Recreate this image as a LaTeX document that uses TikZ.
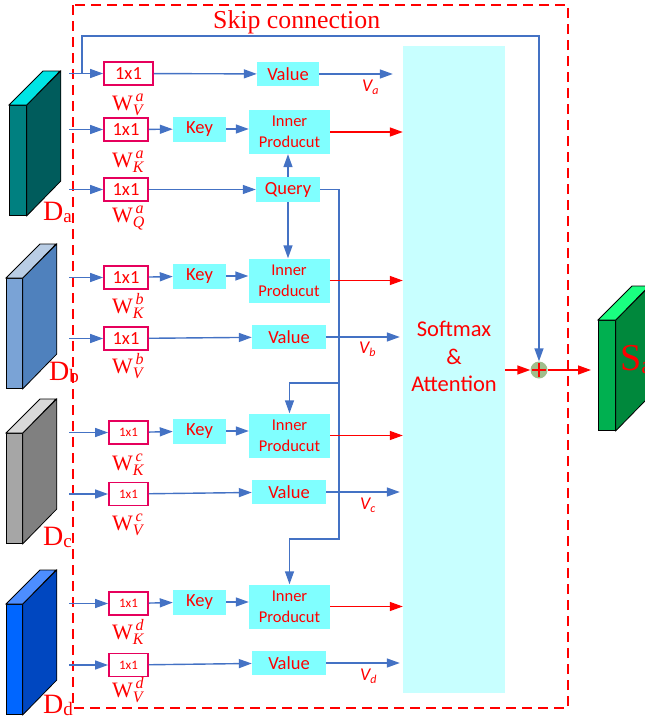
\documentclass[tikz,border=0pt]{standalone}
\usepackage{fontspec}
\setmainfont{Liberation Serif}
\newfontfamily\calib{Carlito}
\usetikzlibrary{arrows.meta}
\definecolor{lineblue}{RGB}{68,114,196}
\definecolor{convred}{RGB}{230,0,92}
\definecolor{boxcyan}{RGB}{128,255,255}
\definecolor{softcyan}{RGB}{200,255,255}
\definecolor{plusgreen}{RGB}{160,190,140}
\definecolor{dafront}{RGB}{0,128,128}
\definecolor{daside}{RGB}{0,92,92}
\definecolor{datop}{RGB}{0,228,228}
\definecolor{dbfront}{RGB}{122,163,214}
\definecolor{dbside}{RGB}{79,129,189}
\definecolor{dbtop}{RGB}{185,205,229}
\definecolor{dcfront}{RGB}{166,166,166}
\definecolor{dcside}{RGB}{128,128,128}
\definecolor{dctop}{RGB}{217,217,217}
\definecolor{ddfront}{RGB}{0,102,255}
\definecolor{ddside}{RGB}{0,71,192}
\definecolor{ddtop}{RGB}{77,142,255}
\definecolor{safront}{RGB}{0,176,80}
\definecolor{saside}{RGB}{0,136,60}
\definecolor{satop}{RGB}{26,255,128}
\newcommand{\wlab}[2]{{\fontsize{22}{22}\selectfont W}\rlap{\raisebox{9pt}{\fontsize{16}{16}\selectfont\itshape\,#1}}\raisebox{-5pt}{\fontsize{16}{16}\selectfont\itshape #2}}
\newcommand{\vlab}[1]{\calib\itshape\fontsize{18}{18}\selectfont V\raisebox{-3pt}{\fontsize{12}{12}\selectfont #1}}
\newcommand{\dlab}[1]{\fontsize{28}{28}\selectfont D\raisebox{-2pt}{\fontsize{19}{19}\selectfont #1}}
\newcommand{\featmap}[6]{%
    \node[draw=black, line width=.8pt, fill=#4, minimum width=#3, minimum height=110, anchor=north west] (#1) at #2 {};
    \filldraw[fill=#5, line width=.8pt] (#1.north east) -- ++(34,-34) -- ++(0,110) -- (#1.south east) -- cycle;
    \filldraw[fill=#6, line width=.8pt] (#1.north west) -- ++(34,-34) -- ++(#3,0) -- (#1.north east) -- cycle;}

\begin{document}
\begin{tikzpicture}[x=1pt, y=-1pt, >={Triangle[length=13pt,width=9pt]}, every node/.style={inner sep=0pt, text=red},%
        conv/.style={draw=convred, line width=1.8pt, fill=white, minimum width=44, minimum height=23, font=\calib\fontsize{18.5}{18.5}\selectfont},
        convsmall/.style={conv, minimum width=39, font=\calib\fontsize{13}{13}\selectfont},
        cyanbox/.style={fill=boxcyan, minimum height=25, font=\calib\fontsize{18.5}{18.5}\selectfont},
        innerbox/.style={fill=boxcyan, minimum width=81, minimum height=44, align=center, font=\calib\fontsize{16.5}{21}\selectfont},
        wlabel/.style={anchor=base west}, arr/.style={draw=lineblue, line width=1.4pt, ->}, redarr/.style={draw=red, line width=1.4pt, ->}]
    \useasboundingbox (0,0) rectangle (645,720);
    \clip (0,0) rectangle (645,720);

    \draw[red, line width=1.3pt, dash pattern=on 10pt off 6pt] (73,5) rectangle (568,708);
    \node[anchor=base west, font=\fontsize{25.8}{25.8}\selectfont] (skiptext) at (213,28) {Skip connection};

    \featmap{da}{(9,105)}{17}{dafront}{daside}{datop}
    \featmap{db}{(6,278)}{16}{dbfront}{dbside}{dbtop}
    \featmap{dc}{(6,433)}{16}{dcfront}{dcside}{dctop}
    \featmap{dd}{(6,604)}{16}{ddfront}{ddside}{ddtop}
    \featmap{sfront}{(598,320)}{17}{safront}{saside}{satop}
    \node[wlabel] (dalab) at (43,220) {\dlab{a}};
    \node[wlabel] (dblab) at (49,380) {\dlab{b}};
    \node[wlabel] (dclab) at (43,545) {\dlab{c}};
    \node[wlabel] (ddlab) at (43,713) {\dlab{d}};
    \node[wlabel, font=\fontsize{38}{38}\selectfont] (salab) at (620,370) {S\raisebox{-3pt}{\fontsize{24}{24}\selectfont a}};

    \node[fill=softcyan, minimum width=102, minimum height=647] (soft) at (454,369.5) {};
    \node[align=center, font=\calib\fontsize{22.5}{27.5}\selectfont] (softtext) at ([yshift=13pt]soft.center) {Softmax\\\&\\Attention};
    \node[circle, fill=plusgreen, minimum size=17] (plus) at (539,370) {};

    \node[conv, minimum width=49] (wva) at (128.5,73.5) {1x1};
    \node[conv] (wka) at (126,129.5) {1x1};
    \node[conv] (wqa) at (126,189.5) {1x1};
    \node[conv] (wkb) at (126,277.5) {1x1};
    \node[conv] (wvb) at (126,338.5) {1x1};
    \node[convsmall] (wkc) at (128.5,432.5) {1x1};
    \node[convsmall] (wvc) at (128.5,494) {1x1};
    \node[convsmall] (wkd) at (128.5,603.5) {1x1};
    \node[convsmall] (wvd) at (128.5,665) {1x1};
    \node[wlabel] (wvalab) at (112,110) {\wlab{a}{V}};
    \node[wlabel] (wkalab) at (112,167) {\wlab{a}{K}};
    \node[wlabel] (wqalab) at (112,222) {\wlab{a}{Q}};
    \node[wlabel] (wkblab) at (112,313) {\wlab{b}{K}};
    \node[wlabel] (wvblab) at (112,373) {\wlab{b}{V}};
    \node[wlabel] (wkclab) at (112,470) {\wlab{c}{K}};
    \node[wlabel] (wvclab) at (112,530) {\wlab{c}{V}};
    \node[wlabel] (wkdlab) at (112,639) {\wlab{d}{K}};
    \node[wlabel] (wvdlab) at (112,697) {\wlab{d}{V}};

    \node[cyanbox, minimum width=53] (keya) at (199.5,129) {Key};
    \node[cyanbox, minimum width=53] (keyb) at (199.5,276) {Key};
    \node[cyanbox, minimum width=53] (keyc) at (199.5,431) {Key};
    \node[cyanbox, minimum width=53] (keyd) at (199.5,602) {Key};
    \node[innerbox] (inna) at (289.5,132) {Inner\\Producut};
    \node[innerbox] (innb) at (289,280.5) {Inner\\Producut};
    \node[innerbox] (innc) at (289.5,435.5) {Inner\\Producut};
    \node[innerbox] (innd) at (289.5,606.5) {Inner\\Producut};
    \node[cyanbox, minimum width=62, minimum height=24] (vala) at (288,74) {Value};
    \node[cyanbox, minimum width=74, minimum height=24] (valb) at (289,337) {Value};
    \node[cyanbox, minimum width=74, minimum height=24] (valc) at (289,492) {Value};
    \node[cyanbox, minimum width=74, minimum height=24] (vald) at (289,663) {Value};
    \node[cyanbox, minimum width=64] (qry) at (288,189.5) {Query};
    \node[wlabel] (valab) at (362,91) {\vlab{a}};
    \node[wlabel] (vblab) at (359,353) {\vlab{b}};
    \node[wlabel] (vclab) at (360,509) {\vlab{c}};
    \node[wlabel] (vdlab) at (360,680) {\vlab{d}};

    \coordinate (in1) at (69,73.5);
    \coordinate (in2) at (69,129.5);
    \coordinate (in3) at (69,189.5);
    \coordinate (in4) at (69,277.5);
    \coordinate (in5) at (69,338.5);
    \coordinate (in6) at (69,432.5);
    \coordinate (in7) at (69,494);
    \coordinate (in8) at (69,603.5);
    \coordinate (in9) at (69,665);
    \coordinate (skip) at (82,73.5);
    \coordinate (skiptop) at (539,36);
    \coordinate (busc) at (339,383);
    \coordinate (busd) at (339,539);

    \draw[arr] (in1) -- (wva);
    \draw[arr] (in2) -- (wka);
    \draw[arr] (in3) -- (wqa);
    \draw[arr] (in4) -- (wkb);
    \draw[arr] (in5) -- (wvb);
    \draw[arr] (in6) -- (wkc);
    \draw[arr] (in7) -- (wvc);
    \draw[arr] (in8) -- (wkd);
    \draw[arr] (in9) -- (wvd);
    \draw[arr] (skip) |- (skiptop) -- (plus);

    \draw[arr] (wva) -- (vala);
    \draw[arr, shorten >=10pt] (vala) -- (vala -| soft.west);
    \draw[arr] (wka) -- (keya);
    \draw[arr] (keya) -- (keya -| inna.west);
    \draw[redarr] (inna) -- (inna -| soft.west);
    \draw[arr] (wqa) -- (qry);
    \draw[arr] (qry.north) -- (qry.north |- inna.south);
    \draw[arr] (qry.south) -- (qry.south |- innb.north);
    \draw[arr] (qry.east) -| (busd) -| (innd.north);
    \draw[arr] (busc) -| (innc.north);

    \draw[arr] (wkb) -- (keyb);
    \draw[arr] (keyb) -- (keyb -| innb.west);
    \draw[redarr] (innb) -- (innb -| soft.west);
    \draw[arr] (wvb) -- (valb);
    \draw[arr, shorten >=3pt] (valb) -- (valb -| soft.west);

    \draw[arr] (wkc) -- (keyc);
    \draw[arr] (keyc) -- (keyc -| innc.west);
    \draw[redarr] (innc) -- (innc -| soft.west);
    \draw[arr] (wvc) -- (valc);
    \draw[arr, shorten >=3pt] (valc) -- (valc -| soft.west);

    \draw[arr] (wkd) -- (keyd);
    \draw[arr] (keyd) -- (keyd -| innd.west);
    \draw[redarr] (innd) -- (innd -| soft.west);
    \draw[arr] (wvd) -- (vald);
    \draw[arr, shorten >=3pt] (vald) -- (vald -| soft.west);

    \draw[redarr] (soft.east |- plus) -- (plus);
    \draw[redarr, shorten >=7pt] (plus) -- (plus -| sfront.west);
    \draw[red, line width=2.5pt] ([yshift=7pt]plus.center) -- ([yshift=-7pt]plus.center) ([xshift=-7pt]plus.center) -- ([xshift=7pt]plus.center);
\end{tikzpicture}
\end{document}
